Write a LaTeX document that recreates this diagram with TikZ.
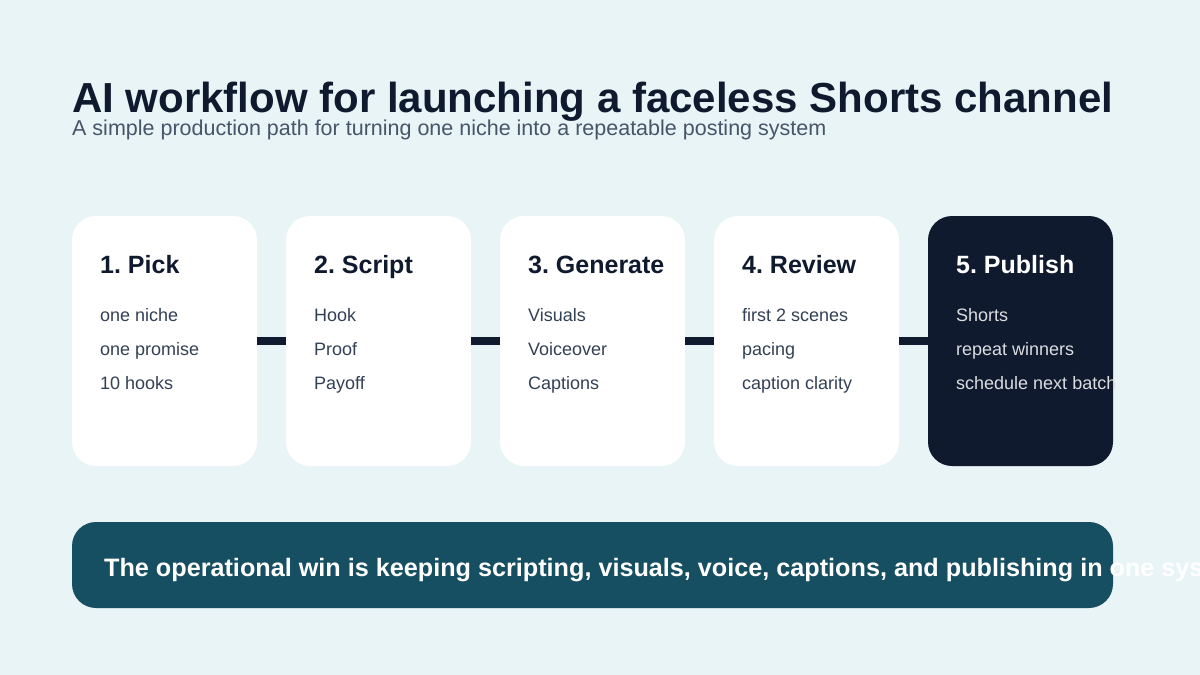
\documentclass[tikz,border=0pt]{standalone}
\usepackage{fontspec}
\setmainfont{Liberation Sans}
\frenchspacing
\definecolor{bg}{HTML}{E8F4F6}
\definecolor{ink}{HTML}{0F1A2E}
\definecolor{sub}{HTML}{475569}
\definecolor{item}{HTML}{334155}
\definecolor{banner}{HTML}{174F62}
\begin{document}
\begin{tikzpicture}[x=1pt,y=1pt,
  card/.style={rectangle,rounded corners=24pt,minimum width=185pt,minimum height=250pt,inner sep=0pt,fill=white},
  head/.style={anchor=base west,inner sep=0pt,font=\fontsize{25}{29}\selectfont\bfseries,text=ink},
  itm/.style={anchor=base west,inner sep=0pt,font=\fontsize{18}{21}\selectfont,text=item},
  link/.style={draw=ink,line width=8pt}]
\useasboundingbox[fill=bg] (0,0) rectangle (1200,-675);
\node[anchor=base west,inner sep=0pt,font=\fontsize{42}{48}\selectfont\bfseries,text=ink] (title) at (72,-112) {AI workflow for launching a faceless Shorts channel};
\node[anchor=base west,inner sep=0pt,font=\fontsize{21.5}{25}\selectfont,text=sub] (subtitle) at (72,-135) {A simple production path for turning one niche into a repeatable posting system};
\foreach \i/\x in {1/164.5,2/378.5,3/592.5,4/806.5}{\node[card] (b\i) at (\x,-341) {};}
\node[card,fill=ink] (b5) at (1020.5,-341) {};
\foreach \a/\b in {b1/b2,b2/b3,b3/b4,b4/b5}{\draw[link] (\a.east) -- (\b.west);}
\node[head] (h1) at (100,-273) {1. Pick};
\node[itm] (i11) at (100,-321) {one niche};
\node[itm] (i12) at (100,-355) {one promise};
\node[itm] (i13) at (100,-389) {10 hooks};
\node[head] (h2) at (314,-273) {2. Script};
\node[itm] (i21) at (314,-321) {Hook};
\node[itm] (i22) at (314,-355) {Proof};
\node[itm] (i23) at (314,-389) {Payoff};
\node[head] (h3) at (528,-273) {3. Generate};
\node[itm] (i31) at (528,-321) {Visuals};
\node[itm] (i32) at (528,-355) {Voiceover};
\node[itm] (i33) at (528,-389) {Captions};
\node[head] (h4) at (742,-273) {4. Review};
\node[itm] (i41) at (742,-321) {first 2 scenes};
\node[itm] (i42) at (742,-355) {pacing};
\node[itm] (i43) at (742,-389) {caption clarity};
\node[head,text=white] (h5) at (956,-273) {5. Publish};
\node[itm,text=white!85!ink] (i51) at (956,-321) {Shorts};
\node[itm,text=white!85!ink] (i52) at (956,-355) {repeat winners};
\node[itm,text=white!85!ink] (i53) at (956,-389) {schedule next batch};
\node[rectangle,rounded corners=24pt,fill=banner,minimum width=1041pt,minimum height=86pt,inner sep=0pt] (ban) at (592.5,-565) {};
\node[anchor=base west,inner sep=0pt,font=\fontsize{25.2}{29}\selectfont\bfseries,text=white] (msg) at (104,-576) {The operational win is keeping scripting, visuals, voice, captions, and publishing in one system.};
\end{tikzpicture}
\end{document}
